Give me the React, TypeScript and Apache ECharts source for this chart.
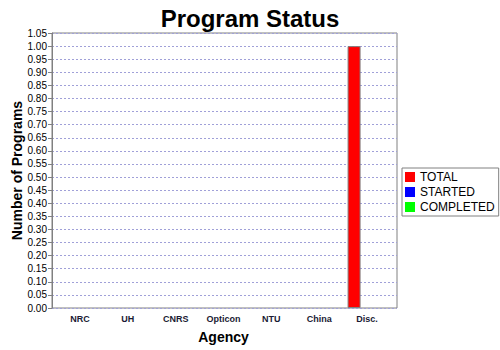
import React, { useEffect, useRef } from "react";
import * as echarts from "echarts";

const categories = ["NRC", "UH", "CNRS", "Opticon", "NTU", "China", "Disc."];
const totalValues = [0, 0, 0, 0, 0, 0, 1];
const startedValues = [0, 0, 0, 0, 0, 0, 0];
const completedValues = [0, 0, 0, 0, 0, 0, 0];
const seriesNames = ["TOTAL", "STARTED", "COMPLETED"];
const seriesColors = ["#ff0000", "#0000ff", "#00ff00"];

export default function App() {
  const ref = useRef<HTMLDivElement>(null);
  useEffect(() => {
    if (!ref.current) return;
    const chart = echarts.init(ref.current, null, { renderer: "svg" });
    const font = "'Liberation Sans', Arial, sans-serif";
    const yCommon = { type: "value", min: 0, max: 1.05, interval: 0.05 };
    const dataSets = [totalValues, startedValues, completedValues];
    chart.setOption({
      animation: false,
      backgroundColor: "#ffffff",
      title: {
        text: "Program Status",
        left: "center",
        top: 1,
        textStyle: { fontFamily: font, fontSize: 24, fontWeight: "bold", color: "#000" },
      },
      legend: {
        orient: "vertical",
        left: 402,
        top: 168,
        padding: [3, 4, 3, 3],
        itemGap: 3,
        itemWidth: 10,
        itemHeight: 10,
        borderColor: "#808080",
        borderWidth: 1,
        icon: "rect",
        itemStyle: { borderWidth: 0 },
        textStyle: { fontFamily: font, fontSize: 12, color: "#000", lineHeight: 11 },
        data: seriesNames,
      },
      grid: [
        { left: 56, right: 109, top: 33, bottom: 42, show: false, containLabel: false, outerBoundsMode: "none" },
        { left: 52, right: 103, top: 33, bottom: 42, show: true, borderColor: "#808080", borderWidth: 1, backgroundColor: "#fff", containLabel: false, outerBoundsMode: "none" },
      ],
      xAxis: [
        {
          type: "category",
          gridIndex: 0,
          data: categories,
          axisLine: { show: false },
          axisTick: { show: false },
          axisLabel: { fontFamily: font, fontSize: 9, fontWeight: "bold", color: "#1a1a33", margin: 6 },
          name: "Agency",
          nameLocation: "middle",
          nameGap: 22,
          nameMoveOverlap: false,
          nameTextStyle: { fontFamily: font, fontSize: 14, fontWeight: "bold", color: "#000" },
          z: 5,
        },
        { type: "value", gridIndex: 1, show: false },
      ],
      yAxis: [
        { ...yCommon, gridIndex: 0, show: false },
        {
          ...yCommon,
          gridIndex: 1,
          axisLine: { show: true, lineStyle: { color: "#808080" } },
          axisTick: { show: true, length: 4, lineStyle: { color: "#808080" } },
          axisLabel: {
            fontFamily: font,
            fontSize: 10,
            color: "#000",
            margin: 5,
            formatter: (v: number) => v.toFixed(2),
          },
          splitLine: { show: true, lineStyle: { color: "#a0a0d8", type: [2, 2], width: 1 } },
          name: "Number of Programs",
          nameLocation: "middle",
          nameRotate: 90,
          nameGap: 28,
          nameMoveOverlap: false,
          nameTextStyle: { fontFamily: font, fontSize: 14, fontWeight: "bold", color: "#000" },
        },
      ],
      series: seriesNames.map((n, i) => ({
        name: n,
        type: "bar",
        xAxisIndex: 0,
        yAxisIndex: 0,
        barWidth: 13,
        barGap: "0%",
        data: dataSets[i].map((v) => ({
          value: v,
          itemStyle: { borderWidth: v > 0 ? 1 : 0 },
        })),
        itemStyle: { color: seriesColors[i], borderColor: "#808080", borderWidth: 1 },
        z: 3,
      })),
    });
    return () => chart.dispose();
  }, []);
  return (
    <div
      ref={ref}
      style={{ position: "fixed", left: 0, top: 0, width: 500, height: 350 }}
    />
  );
}
